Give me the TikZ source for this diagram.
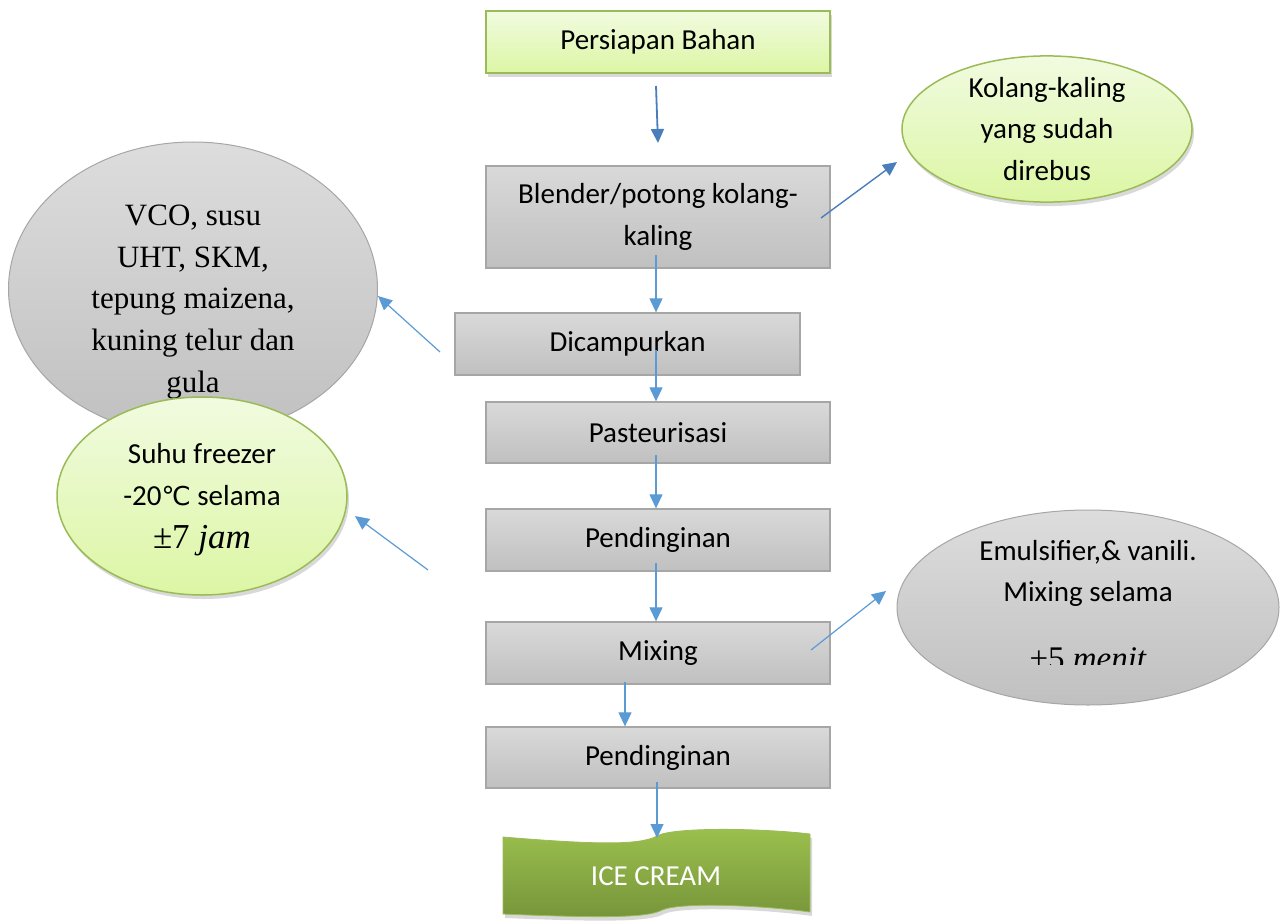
\documentclass[tikz,border=0pt]{standalone}
\usepackage{fontspec}
\setmainfont{Carlito}
\newfontfamily\tnr{Liberation Serif}
\newfontfamily\djv{DejaVu Sans}
\usetikzlibrary{arrows.meta,shapes.geometric,shadows}

\definecolor{grnTop}{HTML}{F1FBE0}
\definecolor{grnBot}{HTML}{DCF6A4}
\definecolor{grnLine}{HTML}{9BBB59}
\definecolor{gryTop}{HTML}{D9D9D9}
\definecolor{gryBot}{HTML}{C0C0C0}
\definecolor{gryLine}{HTML}{A6A6A6}
\definecolor{iceTop}{HTML}{9CC04E}
\definecolor{iceBot}{HTML}{76953A}
\definecolor{darkArr}{HTML}{4A7EBB}
\definecolor{lightArr}{HTML}{5B9BD5}

\tikzset{
  body/.style={font=\fontsize{29}{41.5}\selectfont},
  greenbox/.style={rectangle, draw=grnLine, line width=1.5pt, top color=grnTop, bottom color=grnBot,
    drop shadow={shadow xshift=2pt, shadow yshift=-4pt, opacity=0.3}, body},
  graybox/.style={rectangle, draw=gryLine, line width=1.3pt, top color=gryTop, bottom color=gryBot,
    minimum width=344pt, body, align=center},
  greenell/.style={ellipse, draw=grnLine, line width=1.5pt, top color=grnTop, bottom color=grnBot,
    drop shadow={shadow xshift=2pt, shadow yshift=-4pt, opacity=0.3}, body, align=center, inner sep=0pt},
  grayell/.style={ellipse, draw=gryLine, line width=1pt, top color=gryTop!90, bottom color=gryBot, inner sep=0pt},
  darkarrow/.style={draw=darkArr, line width=1.8pt, -{Triangle[length=14pt, width=13pt]}},
  lightarrow/.style={draw=lightArr, line width=1.2pt, -{Triangle[length=14pt, width=13pt]}},
}

\begin{document}
\begin{tikzpicture}[x=1pt, y=-1pt]
\useasboundingbox (0,0) rectangle (1281,920);

% --- main process column ---
\node[greenbox, minimum width=344pt, minimum height=62pt] (prep) at (658,42) {Persiapan Bahan};
\node[graybox, minimum height=102pt] (blend) at (658,217) {Blender/potong kolang-\\kaling};
\node[graybox, minimum width=345pt, minimum height=62pt] (dic) at (627.5,344) {Dicampurkan};
\node[graybox, minimum height=61pt] (past) at (658,432.5) {Pasteurisasi};
\node[graybox, minimum height=62pt] (pend1) at (658,540) {Pendinginan};
\node[graybox, minimum height=62pt] (mix) at (658,653) {Mixing};
\node[graybox, minimum height=61pt] (pend2) at (658,757.5) {Pendinginan};

% --- final product (wave shape) ---
\path[draw=grnLine, line width=0.8pt, top color=iceTop, bottom color=iceBot,
      drop shadow={shadow xshift=2pt, shadow yshift=-4pt, opacity=0.3}]
  (503,837) .. controls (600,845) and (640,845) .. (657,836)
            .. controls (672,827) and (760,828) .. (810,834)
  -- (810,912)
            .. controls (760,905) and (680,902) .. (662,910)
            .. controls (648,918) and (600,918) .. (503,914)
  -- cycle;
\node[body, text=white] (ice) at (656,876) {ICE CREAM};

% --- side notes ---
\node[greenell, minimum width=290pt, minimum height=143pt] (kolang) at (1047,129)
  {Kolang-kaling\\yang sudah\\direbus};

\node[grayell, minimum width=369pt, minimum height=294pt] (vco) at (193,289) {};
\node[font=\tnr\fontsize{31}{41.8}\selectfont, align=center] (vcotxt) at (193,302)
  {VCO, susu\\UHT, SKM,\\tepung maizena,\\kuning telur dan\\gula};

\node[greenell, minimum width=290pt, minimum height=198pt] (suhu) at (202,496) {};
\node[body, align=center] (suhutxt) at (202,500)
  {Suhu freezer\\-20{\djv\fontsize{26}{41.5}\selectfont ℃} selama\\[2pt]{\tnr\fontsize{35}{41.8}\selectfont ±7 \itshape jam}};

\node[grayell, minimum width=382pt, minimum height=195pt] (emul) at (1088,607.5) {};
\node[body, anchor=base] (emul1) at (1088,560) {Emulsifier,\& vanili.};
\node[body, anchor=base] (emul2) at (1088,601) {Mixing selama};
\begin{scope}
  \clip (900,620) rectangle (1270,664);
  \node[font=\tnr\fontsize{33}{41.8}\selectfont, anchor=base] (emul3) at (1088,669) {±5 \itshape menit};
\end{scope}

% --- connector end points ---
\coordinate (a1s) at (656,86);   \coordinate (a1e) at (658,143);
\coordinate (a2s) at (821,218);  \coordinate (a2e) at (897,162);
\coordinate (a3s) at (656,255);
\coordinate (a4s) at (440,352);  \coordinate (a4e) at (378,296);
\coordinate (a5s) at (656,350);
\coordinate (a6s) at (656,455);
\coordinate (a7s) at (428,570);  \coordinate (a7e) at (355,516);
\coordinate (a8s) at (656,563);
\coordinate (a9s) at (811,650);  \coordinate (a9e) at (886,591);
\coordinate (a10s) at (625,682);
\coordinate (a11s) at (657,782); \coordinate (a11e) at (657,838);

% --- connectors ---
\draw[darkarrow] (a1s) -- (a1e);
\draw[darkarrow, line width=1.4pt] (a2s) -- (a2e);
\draw[lightarrow] (a3s) -- (a3s |- dic.north);
\draw[lightarrow] (a4s) -- (a4e);
\draw[lightarrow] (a5s) -- (a5s |- past.north);
\draw[lightarrow] (a6s) -- (a6s |- pend1.north);
\draw[lightarrow] (a7s) -- (a7e);
\draw[lightarrow] (a8s) -- (a8s |- mix.north);
\draw[lightarrow] (a9s) -- (a9e);
\draw[lightarrow] (a10s) -- (a10s |- pend2.north);
\draw[lightarrow] (a11s) -- (a11e);
\end{tikzpicture}
\end{document}
